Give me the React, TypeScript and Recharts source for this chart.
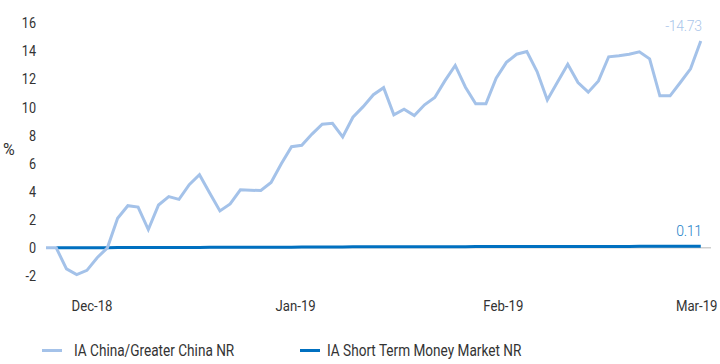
import React from 'react';
import { LineChart, Line, XAxis, YAxis, ReferenceLine } from 'recharts';

const chinaValues: number[] = [
  0, 0, -1.5, -1.9, -1.6, -0.7, 0, 2.1, 3.0, 2.9,
  1.3, 3.05, 3.65, 3.45, 4.5, 5.2, 3.9, 2.63, 3.13, 4.13,
  4.1, 4.08, 4.65, 5.98, 7.2, 7.3, 8.1, 8.8, 8.87, 7.9,
  9.3, 10.05, 10.9, 11.4, 9.47, 9.87, 9.42, 10.18, 10.7, 11.9,
  12.98, 11.43, 10.25, 10.25, 12.08, 13.2, 13.78, 13.97, 12.55, 10.53,
  11.8, 13.07, 11.77, 11.08, 11.88, 13.6, 13.68, 13.78, 13.95, 13.45,
  10.82, 10.82, 11.77, 12.74, 14.73,
];

const moneyValues: (number | null)[] = [
  null, 0.0, 0.0, 0.01, 0.01, 0.01, 0.01, 0.02, 0.02, 0.02,
  0.02, 0.03, 0.03, 0.03, 0.03, 0.03, 0.04, 0.04, 0.04, 0.04,
  0.05, 0.05, 0.05, 0.05, 0.05, 0.06, 0.06, 0.06, 0.06, 0.06,
  0.07, 0.07, 0.07, 0.07, 0.07, 0.07, 0.08, 0.08, 0.08, 0.08,
  0.08, 0.08, 0.09, 0.09, 0.09, 0.09, 0.09, 0.09, 0.09, 0.1,
  0.1, 0.1, 0.1, 0.1, 0.1, 0.1, 0.1, 0.1, 0.11, 0.11,
  0.11, 0.11, 0.11, 0.11, 0.11,
];

const xTickValues: number[] = [4.5, 24.4, 44.7, 63.6];
const xTickLabels: string[] = ['Dec-18', 'Jan-19', 'Feb-19', 'Mar-19'];
const yTicks: number[] = [-2, 0, 2, 4, 6, 8, 10, 12, 14, 16];

const seriesNames = ['IA China/Greater China NR', 'IA Short Term Money Market NR'];
const chinaEndLabel = '-14.73';
const moneyEndLabel = '0.11';
const yUnit = '%';

const LIGHT = '#a4c2e9';
const DARK = '#0070c0';
const TEXT = '#333';
const FONT = 'Roboto, sans-serif';
const SQUEEZE = 0.85;

const data = chinaValues.map((v, i) => ({ i, china: v, money: moneyValues[i] }));
const lastIndex = data.length - 1;

const makeEndLabel = (text: string, color: string) => (props: any) => {
  const { x, y, index } = props;
  if (index !== lastIndex) return null;
  return (
    <text
      x={x + 1}
      y={y - 10}
      textAnchor="end"
      fill={color}
      fontFamily={FONT}
      fontWeight={300}
      fontSize={14}
      letterSpacing={-0.3}
    >
      {text}
    </text>
  );
};

const XTick = (props: any) => {
  const { x, y, payload } = props;
  const label = xTickLabels[xTickValues.indexOf(payload.value)] ?? '';
  return (
    <g transform={`translate(${x},${y})`}>
      <text transform={`scale(${SQUEEZE},1)`} textAnchor="middle" dy="0.71em" fill={TEXT} fontSize={15.5} fontFamily={FONT}>
        {label}
      </text>
    </g>
  );
};

const YTick = (props: any) => {
  const { x, y, payload } = props;
  return (
    <g transform={`translate(${x},${y})`}>
      <text transform={`scale(${SQUEEZE + 0.02},1)`} textAnchor="end" dy="0.355em" fill={TEXT} fontSize={14.5} fontFamily={FONT}>
        {payload.value}
      </text>
    </g>
  );
};

const YUnitLabel = (props: any) => {
  const vb = props.viewBox || {};
  return (
    <text x={3} y={(vb.y ?? 0) + (vb.height ?? 0) / 2} dy="0.355em" fill={TEXT} fontSize={16} fontFamily={FONT}>
      {yUnit}
    </text>
  );
};

const LegendContent = () => (
  <div style={{ position: 'relative', height: 30, fontFamily: FONT, fontSize: 16, color: TEXT }}>
    {[LIGHT, DARK].map((c, k) => (
      <div
        key={k}
        style={{
          position: 'absolute',
          left: k === 0 ? 42 : 300,
          top: 7,
          display: 'flex',
          alignItems: 'center',
          whiteSpace: 'nowrap',
        }}
      >
        <span style={{ display: 'inline-block', width: 20, height: 3, background: c, marginRight: k === 0 ? 12 : 7 }} />
        <span style={{ display: 'inline-block', transform: `scaleX(${SQUEEZE})`, transformOrigin: 'left center' }}>
          {seriesNames[k]}
        </span>
      </div>
    ))}
  </div>
);

export default function App() {
  return (
    <div style={{ position: 'fixed', left: 0, top: 0, width: 720, height: 364, background: '#fff' }}>
      <LineChart width={720} height={364} data={data} margin={{ top: 9, right: 9, bottom: 30, left: 0 }}>
        <XAxis
          dataKey="i"
          type="number"
          domain={[0, 65]}
          ticks={xTickValues}
          axisLine={false}
          tickLine={false}
          tickSize={0}
          tickMargin={10}
          height={44}
          interval={0}
          tick={<XTick />}
        />
        <YAxis
          type="number"
          domain={[-3, 17]}
          ticks={yTicks}
          axisLine={false}
          tickLine={false}
          tickSize={0}
          tickMargin={10}
          width={46}
          interval={0}
          tick={<YTick />}
          label={{ content: YUnitLabel }}
        />
        <ReferenceLine y={0} stroke="#cfcfcf" strokeWidth={1.5} />
        <Line
          dataKey="money"
          stroke={DARK}
          strokeWidth={3}
          dot={false}
          isAnimationActive={false}
          connectNulls={false}
          label={makeEndLabel(moneyEndLabel, '#1a7fc8')}
        />
        <Line
          dataKey="china"
          stroke={LIGHT}
          strokeWidth={3}
          dot={false}
          isAnimationActive={false}
          label={makeEndLabel(chinaEndLabel, '#aac6ea')}
        />
      </LineChart>
      <div style={{ position: 'absolute', left: 0, top: 334, width: 720 }}>
        <LegendContent />
      </div>
    </div>
  );
}
